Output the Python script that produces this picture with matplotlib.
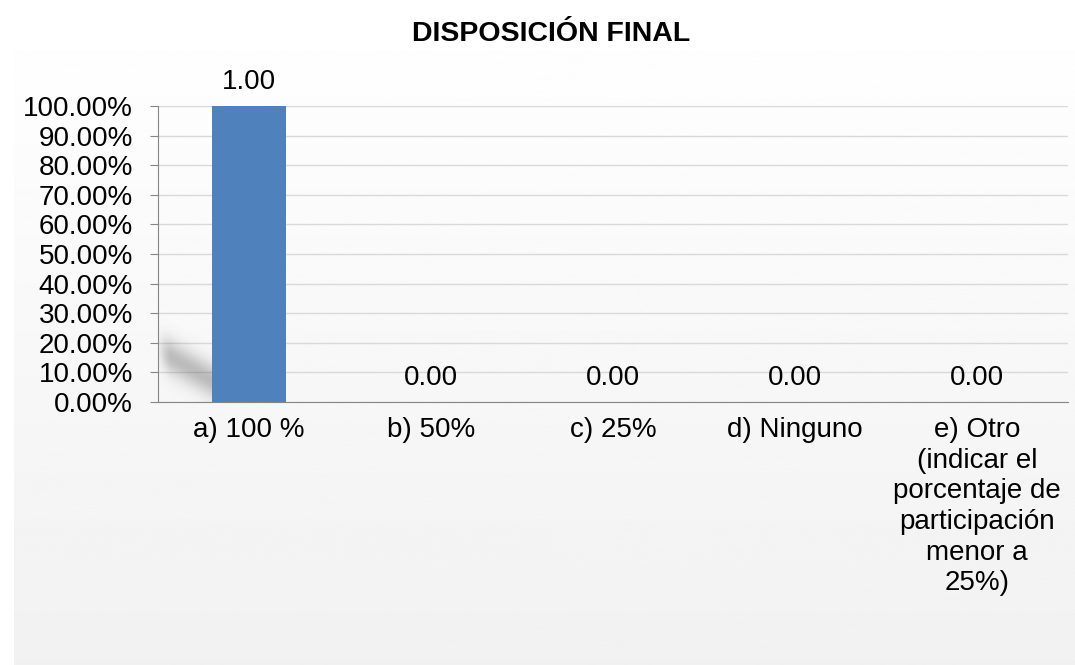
import numpy as np
import matplotlib.pyplot as plt
from matplotlib.ticker import PercentFormatter

plt.rcParams["font.family"] = ["Liberation Sans", "DejaVu Sans"]

categories = [
    "a) 100 %",
    "b) 50%",
    "c) 25%",
    "d) Ninguno",
    "e) Otro\n(indicar el\nporcentaje de\nparticipación\nmenor a\n25%)",
]
values = [1.0, 0.0, 0.0, 0.0, 0.0]
title = "DISPOSICIÓN FINAL"

fig = plt.figure(figsize=(10.75, 6.65), dpi=100)

# soft grey gradient panel behind the chart
bg = fig.add_axes([0.013, 0.0, 0.987, 0.996], zorder=-10)
grad = np.linspace(1.0, 0.945, 256).reshape(-1, 1)
bg.imshow(grad, aspect="auto", cmap="gray", vmin=0, vmax=1, extent=[0, 1, 0, 1])
bg.set_axis_off()

ax = fig.add_axes([0.147, 0.3955, 0.8465, 0.445])
ax.patch.set_alpha(0)
x = np.arange(len(categories))
width = 0.41
bars = ax.bar(x, values, width=width, color="#4F81BD", zorder=3)

ax.set_ylim(0, 1.0)
ax.set_yticks(np.linspace(0, 1, 11))
ax.yaxis.set_major_formatter(PercentFormatter(xmax=1.0, decimals=2))
ax.grid(axis="y", color="#d9d9d9", linewidth=1, zorder=0)

for s in ["top", "right"]:
    ax.spines[s].set_visible(False)
for s in ["left", "bottom"]:
    ax.spines[s].set_color("#868686")

ax.set_xticks(x)
ax.set_xticklabels(categories, linespacing=1.23)
ax.tick_params(axis="y", labelsize=20, length=6, color="#868686", pad=12)
ax.tick_params(axis="x", labelsize=20, length=0, pad=11)

# blurred diagonal shadow to the left of the first bar
x0, x1 = -0.5, x[0] - width / 2
nx, ny = 120, 200
u = np.linspace(0, (x1 - x0) * 182, nx)
v = np.linspace(0, 0.3 * 296, ny)[::-1]
U, V = np.meshgrid(u, v)
centre = 52 - 0.57 * U
d = (V - centre) / 17.0
alpha = 0.38 * np.exp(-d ** 2) * np.clip(U / 12.0, 0, 1) ** 0.7
shadow = np.zeros((ny, nx, 4))
shadow[..., :3] = 0.35
shadow[..., 3] = alpha
ax.imshow(shadow, extent=[x0, x1, 0, 0.3], aspect="auto", zorder=2,
          interpolation="bilinear")
ax.set_xlim(-0.5, len(categories) - 0.5)
ax.set_ylim(0, 1.0)

for b, v in zip(bars, values):
    ax.annotate(f"{v:.2f}", (b.get_x() + b.get_width() / 2, v),
                xytext=(0, 8), textcoords="offset points",
                ha="center", va="bottom", fontsize=20, clip_on=False)

fig.text(0.513, 0.949, title, ha="center", va="center",
         fontsize=20.5, fontweight="bold")

fig.savefig("out.png", dpi=100)
